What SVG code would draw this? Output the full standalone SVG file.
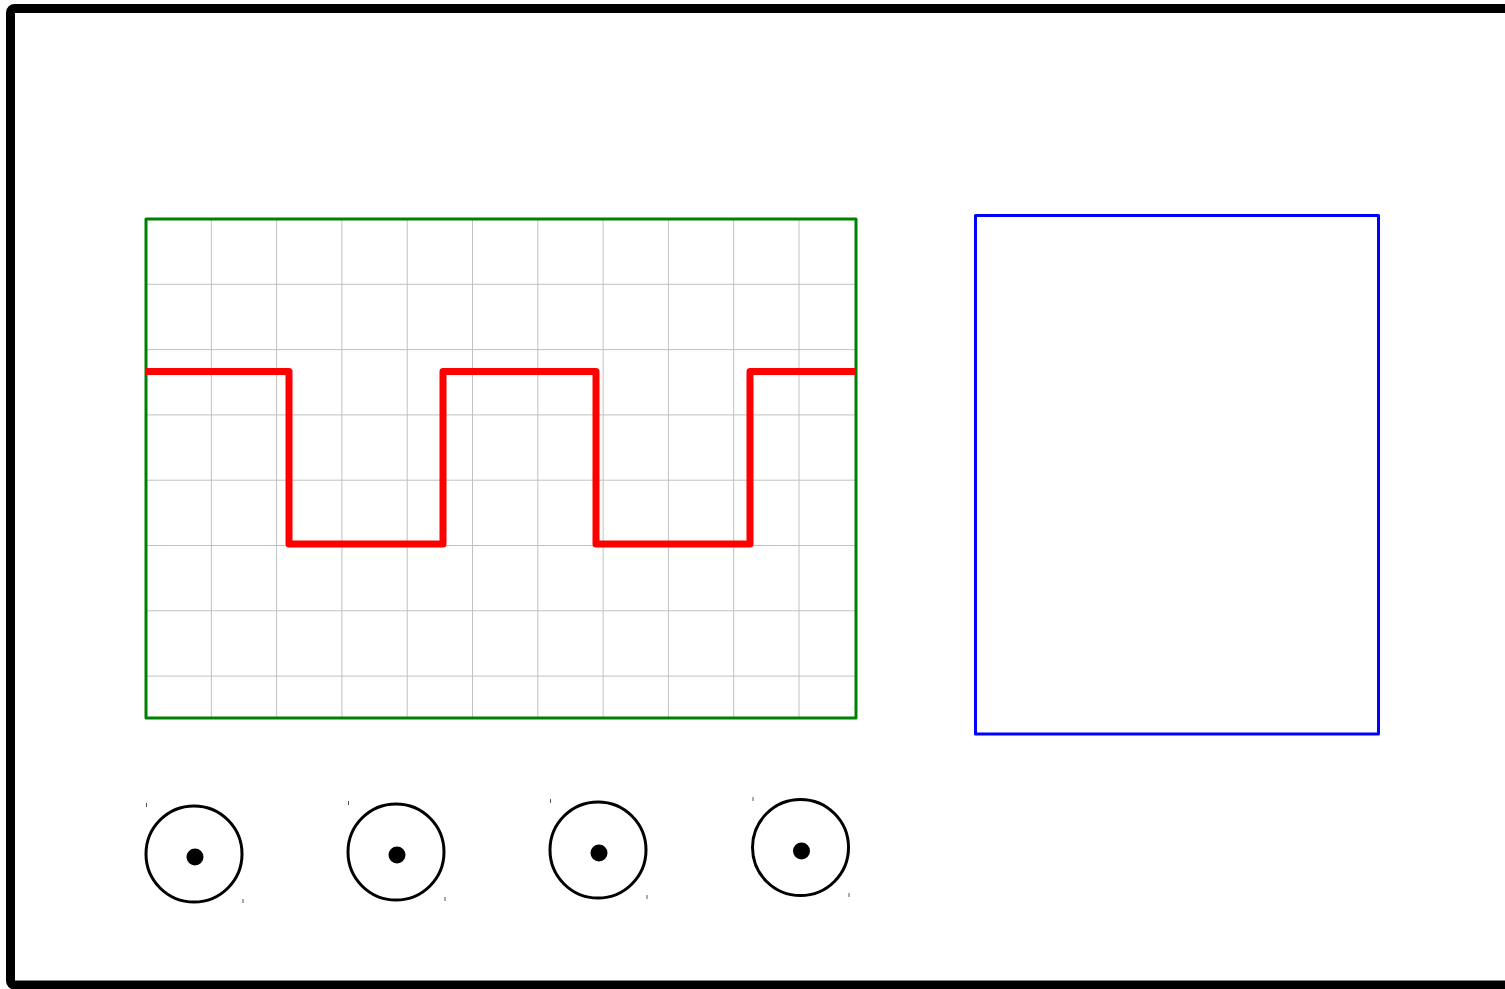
<svg xmlns="http://www.w3.org/2000/svg" width="1505" height="989" viewBox="0 0 1505 989">
<style>
.frame{fill:none;stroke:#000;stroke-width:9;stroke-linejoin:round}
.screen{fill:none;stroke:#008000;stroke-width:3;stroke-linejoin:round}
.grid{stroke:#c0c0c0;stroke-width:1}
.wave{fill:none;stroke:#ff0000;stroke-width:7;stroke-linejoin:round}
.panel{fill:none;stroke:#0000ff;stroke-width:3;stroke-linejoin:round}
.knob{fill:none;stroke:#000;stroke-width:3}
.dot{fill:#000}
.tick{stroke:#555;stroke-width:1}
</style>
<rect x="0" y="0" width="1505" height="989" fill="#fff"/>
<g id="frame"><rect class="frame" x="10.5" y="8.5" width="1510" height="976.5" rx="4"/></g>
<g id="screen">
<g class="grid">
<line x1="211.3" y1="219" x2="211.3" y2="718"/>
<line x1="276.6" y1="219" x2="276.6" y2="718"/>
<line x1="341.9" y1="219" x2="341.9" y2="718"/>
<line x1="407.2" y1="219" x2="407.2" y2="718"/>
<line x1="472.5" y1="219" x2="472.5" y2="718"/>
<line x1="537.8" y1="219" x2="537.8" y2="718"/>
<line x1="603.1" y1="219" x2="603.1" y2="718"/>
<line x1="668.4" y1="219" x2="668.4" y2="718"/>
<line x1="733.7" y1="219" x2="733.7" y2="718"/>
<line x1="799" y1="219" x2="799" y2="718"/>
<line x1="146" y1="284.3" x2="856" y2="284.3"/>
<line x1="146" y1="349.6" x2="856" y2="349.6"/>
<line x1="146" y1="414.9" x2="856" y2="414.9"/>
<line x1="146" y1="480.2" x2="856" y2="480.2"/>
<line x1="146" y1="545.5" x2="856" y2="545.5"/>
<line x1="146" y1="610.8" x2="856" y2="610.8"/>
<line x1="146" y1="676.1" x2="856" y2="676.1"/>
</g>
<rect class="screen" x="146" y="219" width="710" height="499"/>
<polyline class="wave" points="146,371.5 289,371.5 289,544 443,544 443,371.5 596,371.5 596,544 750,544 750,371.5 856,371.5"/>
</g>
<g id="panel"><rect class="panel" x="975.5" y="215.5" width="403" height="518.5"/></g>
<g id="knob1"><circle class="knob" cx="194" cy="854" r="48"/><circle class="dot" cx="195" cy="857" r="8.5"/><line class="tick" x1="146.5" y1="803" x2="146.5" y2="807"/><line class="tick" x1="243" y1="899" x2="243" y2="903"/></g>
<g id="knob2"><circle class="knob" cx="396" cy="852" r="48"/><circle class="dot" cx="397" cy="855" r="8.5"/><line class="tick" x1="348.5" y1="801" x2="348.5" y2="805"/><line class="tick" x1="445" y1="897" x2="445" y2="901"/></g>
<g id="knob3"><circle class="knob" cx="598" cy="850" r="48"/><circle class="dot" cx="599" cy="853" r="8.5"/><line class="tick" x1="550.5" y1="799" x2="550.5" y2="803"/><line class="tick" x1="647" y1="895" x2="647" y2="899"/></g>
<g id="knob4"><circle class="knob" cx="800.5" cy="847.5" r="48"/><circle class="dot" cx="801.5" cy="851" r="8.5"/><line class="tick" x1="753" y1="797" x2="753" y2="801"/><line class="tick" x1="849" y1="893" x2="849" y2="897"/></g>
</svg>
